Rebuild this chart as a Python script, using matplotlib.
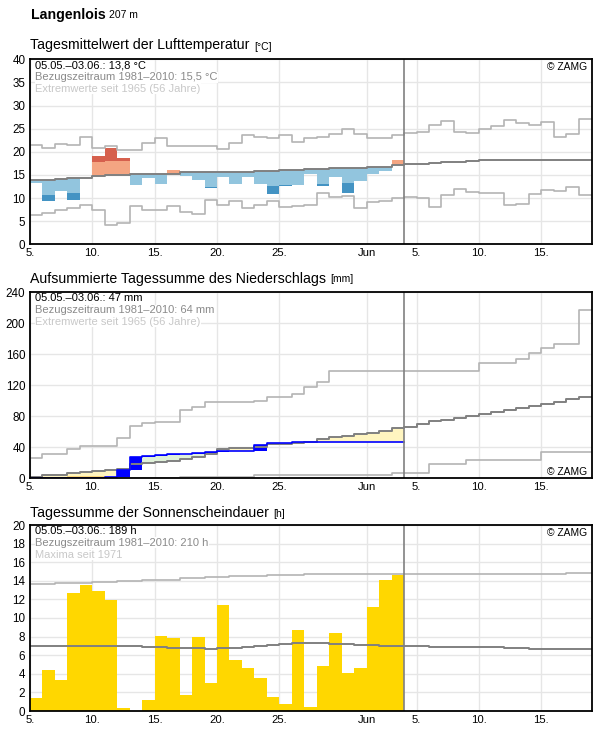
import matplotlib
matplotlib.use('Agg')
import matplotlib.pyplot as plt
import numpy as np

plt.rcParams['font.family'] = ['Liberation Sans', 'DejaVu Sans']

# ---------------- data ----------------
# day index 0 = 5 May; observations 5 May - 3 June (30 days); climate to 18 June (45 days)
x_ticks = [0, 5, 10, 15, 20, 27, 31, 36, 41]
x_tick_labels = ['5.', '10.', '15.', '20.', '25.', 'Jun', '5.', '10.', '15.']
obs_end_day = 30

temp_obs = [13.3, 9.4, 11.5, 9.6, 14.4, 19.2, 20.9, 18.7, 12.8, 14.4,
            13.0, 16.1, 14.8, 14.0, 12.2, 14.6, 13.1, 14.6, 13.1, 10.9,
            12.5, 12.9, 15.2, 12.5, 14.5, 11.2, 13.7, 15.2, 15.9, 18.2]
temp_mean = [13.9, 13.9, 14.1, 14.3, 14.4, 14.7, 14.9, 14.9, 15.1, 15.1,
             15.3, 15.3, 15.55, 15.55, 15.6, 15.65, 15.7, 15.7, 15.9, 15.9,
             16.0, 16.1, 16.2, 16.3, 16.4, 16.55, 16.6, 16.8, 16.8, 17.1,
             17.4, 17.4, 17.6, 17.8, 17.85, 18.0, 18.2, 18.2, 18.2, 18.2,
             18.2, 18.2, 18.2, 18.2, 18.2]
temp_max = [21.4, 20.75, 21.6, 21.4, 23.1, 20.9, 21.2, 20.3, 20.3, 21.8,
            22.9, 21.2, 21.2, 21.2, 21.2, 20.6, 21.8, 23.7, 23.2, 22.9,
            23.6, 22.05, 22.9, 23.2, 23.8, 24.9, 23.8, 22.9, 22.9, 23.6,
            24.0, 24.2, 25.7, 26.6, 24.3, 24.0, 24.9, 25.6, 26.8, 26.3,
            25.9, 26.4, 23.2, 23.8, 27.1]
temp_min = [6.3, 6.7, 7.35, 7.85, 8.4, 7.35, 4.1, 4.55, 8.3, 7.35,
            7.35, 8.2, 6.9, 6.5, 9.5, 8.4, 9.3, 7.8, 8.4, 9.3,
            8.0, 8.2, 8.4, 11.05, 10.2, 10.45, 7.8, 9.15, 9.45, 9.95,
            10.3, 9.95, 8.0, 10.7, 11.9, 11.25, 11.1, 11.1, 8.4, 8.7,
            10.8, 11.7, 11.45, 12.3, 10.6]
temp_dev_threshold = 3.2

precip_obs = [0.5, 0.5, 0.5, 0.5, 0.5, 0.5, 2.3, 10.7, 27.5, 28.7,
              29.8, 31.3, 31.3, 32.6, 33.4, 34.6, 34.6, 35.5, 43.0, 45.3,
              45.3, 46.4, 46.4, 47.4, 47.4, 47.4, 47.4, 47.4, 47.4, 47.4]
precip_mean = [2.3, 4.4, 4.4, 7.0, 8.0, 9.3, 10.6, 11.9, 18.6, 20.3,
               21.5, 22.8, 24.7, 27.8, 31.7, 37.4, 39.6, 39.6, 40.9, 43.8,
               43.8, 45.2, 47.4, 50.7, 52.9, 55.0, 56.8, 58.3, 61.5, 64.5,
               66.7, 69.7, 73.5, 75.7, 77.9, 80.0, 82.6, 85.2, 88.2, 90.3,
               92.9, 95.5, 98.5, 102.0, 104.5]
precip_max = [25.8, 31.0, 31.0, 37.4, 41.5, 41.5, 41.5, 51.5, 67.9, 71.8,
              73.1, 73.1, 88.0, 92.3, 97.9, 97.9, 97.9, 97.9, 99.6, 105.2,
              105.2, 108.2, 118.2, 123.8, 138.5, 138.5, 138.5, 138.5, 138.5, 138.5,
              138.5, 138.5, 138.5, 138.5, 138.5, 138.5, 148.3, 148.3, 148.3, 153.8,
              161.1, 168.4, 173.1, 173.1, 216.8]
precip_min = [0.0, 0.0, 0.0, 0.0, 0.0, 0.0, 0.0, 0.0, 0.0, 0.0,
              0.0, 0.0, 2.1, 2.1, 2.1, 2.1, 2.1, 2.1, 4.2, 4.2,
              4.2, 4.2, 4.2, 4.2, 4.2, 4.2, 4.2, 4.2, 4.2, 6.8,
              6.8, 6.8, 18.9, 18.9, 18.9, 23.2, 23.2, 23.2, 23.2, 23.2,
              23.2, 33.5, 33.5, 33.5, 33.5]
precip_dry_limit = [np.nan, np.nan, np.nan, 3.4, 3.4, 3.4, np.nan, np.nan, np.nan, np.nan,
                    np.nan, np.nan, np.nan, np.nan, np.nan, np.nan, np.nan, np.nan, np.nan, np.nan,
                    np.nan, np.nan, np.nan, np.nan, np.nan, np.nan, np.nan, np.nan, np.nan, np.nan]

sun_obs = [1.4, 4.4, 3.3, 12.7, 13.6, 12.9, 11.9, 0.3, 0.0, 1.2,
           8.1, 7.8, 1.7, 8.0, 3.0, 11.4, 5.5, 4.6, 3.5, 1.5,
           0.8, 8.7, 0.4, 4.8, 8.4, 4.1, 4.6, 11.2, 14.1, 14.6]
sun_mean = [7.0, 7.0, 7.0, 7.0, 7.0, 7.0, 7.0, 7.0, 7.0, 6.9,
            6.9, 6.8, 6.8, 6.8, 6.7, 6.75, 6.75, 6.9, 7.0, 7.1,
            7.2, 7.27, 7.27, 7.27, 7.17, 7.17, 7.06, 7.06, 6.95, 6.95,
            6.95, 6.95, 6.85, 6.85, 6.85, 6.85, 6.85, 6.85, 6.74, 6.74,
            6.63, 6.63, 6.63, 6.63, 6.63]
sun_max = [13.67, 13.67, 13.78, 13.78, 13.78, 13.9, 13.9, 14.0, 14.0, 14.1,
           14.1, 14.1, 14.26, 14.26, 14.37, 14.37, 14.5, 14.5, 14.5, 14.6,
           14.6, 14.6, 14.7, 14.7, 14.7, 14.7, 14.7, 14.7, 14.7, 14.7,
           14.7, 14.7, 14.7, 14.7, 14.7, 14.7, 14.7, 14.7, 14.7, 14.7,
           14.7, 14.7, 14.7, 14.85, 14.85]

# ---------------- styling ----------------
W, H = 596, 729
XMAX = 45.1
C_MEAN = '#808080'
C_EXT = '#b4b4b4'
C_GRID = '#e6e6e6'

fig = plt.figure(figsize=(W / 100, H / 100), dpi=100)


def rect(l, t, r, b):
    return [l / W, 1 - b / H, (r - l) / W, (b - t) / H]


def step_line(ax, vals, **kw):
    v = np.asarray(vals, dtype=float)
    xs = np.append(np.arange(len(v)), XMAX)
    ys = np.append(v, v[-1])
    ax.plot(xs, ys, drawstyle='steps-post', **kw)


def base_axes(r, ymax, ystep):
    ax = fig.add_axes(r)
    ax.set_xlim(0, XMAX)
    ax.set_ylim(0, ymax)
    ax.set_xticks(x_ticks)
    ax.set_xticklabels(x_tick_labels)
    ax.set_yticks(np.arange(0, ymax + 0.01, ystep))
    ax.tick_params(axis='x', length=0, labelsize=8.2, pad=3.0)
    ax.tick_params(axis='y', length=0, labelsize=8.4, pad=3.4)
    ax.grid(True, color=C_GRID, lw=1)
    ax.set_axisbelow(True)
    for s in ax.spines.values():
        s.set_color('black')
        s.set_linewidth(1.3)
        s.set_zorder(10)
    ax.axvline(obs_end_day, color=C_MEAN, lw=1.2, zorder=8)
    return ax


def info(ax, lines):
    cols = ['#000000', '#8a8a8a', '#c8c8c8']
    for k, (txt, c) in enumerate(zip(lines, cols)):
        ax.annotate(txt, xy=(0, 1), xycoords='axes fraction',
                    xytext=(3.6, -6.6 - k * 8.4), textcoords='offset points',
                    va='baseline', ha='left', fontsize=8, color=c, zorder=9,
                    bbox=dict(facecolor='white', edgecolor='none', pad=0.3))


def copyright(ax, top=True):
    if top:
        ax.annotate('© ZAMG', xy=(1, 1), xycoords='axes fraction', xytext=(-4, -7.6),
                    textcoords='offset points', ha='right', va='baseline', fontsize=7.4, zorder=9)
    else:
        ax.annotate('© ZAMG', xy=(1, 0), xycoords='axes fraction', xytext=(-4, 2.2),
                    textcoords='offset points', ha='right', va='baseline', fontsize=7.4, zorder=9)


def title(y_px, main, unit, size=10.2, weight='normal', usize=7.5):
    t = fig.text(30.5 / W, 1 - y_px / H, main, fontsize=size, fontweight=weight, va='baseline')
    r = fig.canvas.get_renderer()
    bb = t.get_window_extent(renderer=r)
    fig.text((bb.x1 + 4) / W, 1 - y_px / H, unit, fontsize=usize, va='baseline')


title(18.5, 'Langenlois', '207 m', weight='bold')
title(49.5, 'Tagesmittelwert der Lufttemperatur', '[°C]')
title(282.5, 'Aufsummierte Tagessumme des Niederschlags', '[mm]')
title(516.8, 'Tagessumme der Sonnenscheindauer', '[h]')

# ---------------- temperature ----------------
ax1 = base_axes(rect(30, 59.3, 592.3, 244.3), 40, 5)
days = np.arange(len(temp_obs))
to = np.asarray(temp_obs)
tm = np.asarray(temp_mean[:len(temp_obs)])
warm = to > tm
cold = to < tm
lo_thr = tm - temp_dev_threshold
hi_thr = tm + temp_dev_threshold
ax1.bar(days[warm], np.minimum(to, hi_thr)[warm] - tm[warm], bottom=tm[warm], width=1,
        align='edge', color='#f4a582', lw=0, zorder=2)
ax1.bar(days[cold], tm[cold] - np.maximum(to, lo_thr)[cold], bottom=np.maximum(to, lo_thr)[cold],
        width=1, align='edge', color='#92c5de', lw=0, zorder=2)
sw = to > hi_thr
sc = to < lo_thr
ax1.bar(days[sw], (to - hi_thr)[sw], bottom=hi_thr[sw], width=1, align='edge',
        color='#d6604d', lw=0, zorder=2)
ax1.bar(days[sc], (lo_thr - to)[sc], bottom=to[sc], width=1, align='edge',
        color='#4393c3', lw=0, zorder=2)
step_line(ax1, temp_max, color=C_EXT, lw=1.2, zorder=4)
step_line(ax1, temp_min, color=C_EXT, lw=1.2, zorder=4)
step_line(ax1, temp_mean, color=C_MEAN, lw=1.4, zorder=5)
info(ax1, ['05.05.–03.06.: 13,8 °C', 'Bezugszeitraum 1981–2010: 15,5 °C',
           'Extremwerte seit 1965 (56 Jahre)'])
copyright(ax1, top=True)

# ---------------- precipitation ----------------
ax2 = base_axes(rect(30, 292.3, 592.3, 478.3), 240, 40)
po = np.asarray(precip_obs)
pm = np.asarray(precip_mean[:len(precip_obs)])
pd_ = np.arange(len(po))
prev = np.concatenate([[0.0], po[:-1]])
dry = po < pm
wet = po > pm
ax2.bar(pd_[dry], (pm - po)[dry], bottom=po[dry], width=1, align='edge', color='#fff5c0', lw=0, zorder=2)
ax2.bar(pd_[wet], (po - pm)[wet], bottom=pm[wet], width=1, align='edge', color='#dff0d8', lw=0, zorder=2)
dl = np.asarray(precip_dry_limit, dtype=float)
mk = ~np.isnan(dl)
ax2.bar(pd_[mk], (dl - po)[mk], bottom=po[mk], width=1, align='edge', color='#fbd77a', lw=0, zorder=2.5)
inc = po - prev
ax2.bar(pd_[inc > 0], inc[inc > 0], bottom=prev[inc > 0], width=1, align='edge',
        color='#0000ff', lw=0, zorder=3)
step_line(ax2, precip_max, color=C_EXT, lw=1.2, zorder=4)
step_line(ax2, precip_min, color=C_EXT, lw=1.2, zorder=4)
step_line(ax2, precip_mean, color=C_MEAN, lw=1.4, zorder=5)
ax2.plot(np.arange(len(po) + 1), np.append(po, po[-1]), drawstyle='steps-post',
         color='#0000ff', lw=1.2, zorder=6)
info(ax2, ['05.05.–03.06.: 47 mm', 'Bezugszeitraum 1981–2010: 64 mm',
           'Extremwerte seit 1965 (56 Jahre)'])
copyright(ax2, top=False)

# ---------------- sunshine ----------------
ax3 = base_axes(rect(30, 525, 592.3, 711), 20, 2)
ax3.bar(np.arange(len(sun_obs)), sun_obs, width=1, align='edge', color='#ffd700', lw=0, zorder=2)
step_line(ax3, sun_max, color=C_EXT, lw=1.2, zorder=4)
step_line(ax3, sun_mean, color=C_MEAN, lw=1.4, zorder=5)
info(ax3, ['05.05.–03.06.: 189 h', 'Bezugszeitraum 1981–2010: 210 h', 'Maxima seit 1971'])
copyright(ax3, top=True)

fig.savefig('out.png', dpi=100)
